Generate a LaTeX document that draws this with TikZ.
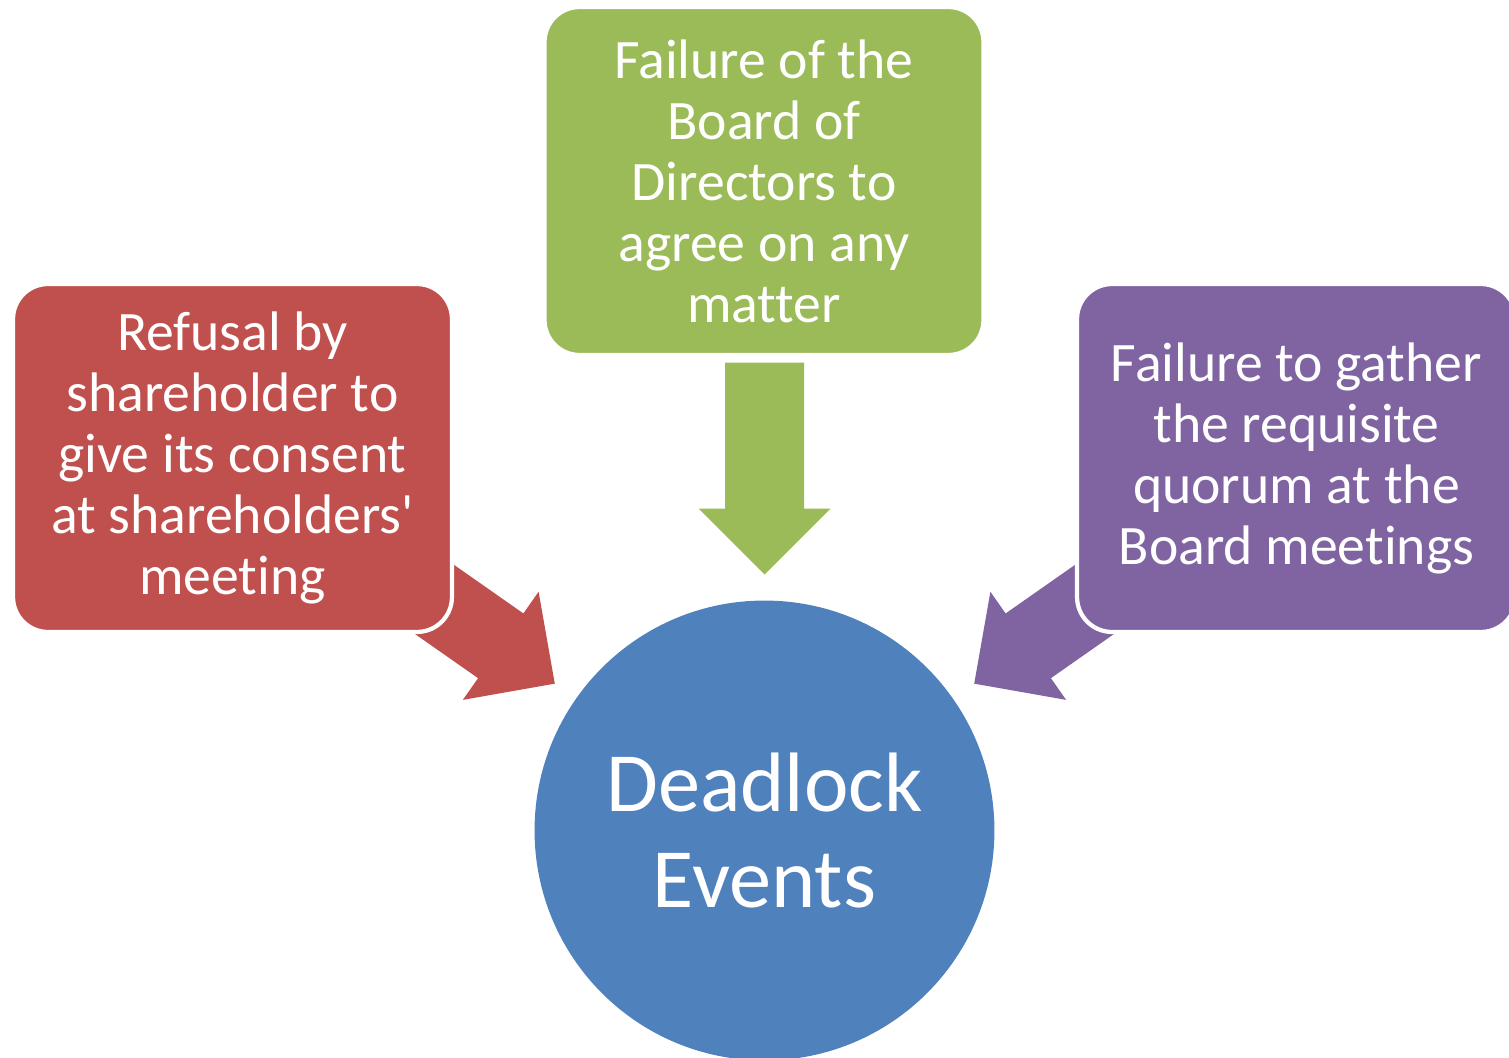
\documentclass[tikz,border=0pt]{standalone}
\usepackage{fontspec}
\setmainfont[Ligatures=NoCommon, RawFeature={-liga;-clig;-calt}]{Carlito}
\usepackage{tikz}
\usetikzlibrary{calc,positioning}

\definecolor{dlblue}{HTML}{4F81BD}
\definecolor{dlred}{HTML}{C0504D}
\definecolor{dlgreen}{HTML}{9BBB59}
\definecolor{dlpurple}{HTML}{8064A2}

% block arrow along +x, tip at 256 from the centre
\newcommand{\feedshape}{(468,-39.5) -- (322,-39.5) -- (322,-66) -- (256,0) -- (322,66) -- (322,39.5) -- (468,39.5) -- cycle}

\tikzset{
	causebox/.style={draw=white, line width=2.4pt, rounded corners=0.7cm, minimum width=8.78cm, minimum height=6.96cm, align=center, text=white, font=\fontsize{31.7}{34.7}\selectfont},
	hub/.style={circle, fill=dlblue, minimum size=9.2cm, align=center, text=white, font=\fontsize{48}{54.5}\selectfont}
}

\begin{document}
\begin{tikzpicture}[x=0.02cm, y=0.02cm]
		\useasboundingbox (0,0) rectangle (1509,-1058);
		\clip (0,0) rectangle (1509,-1058);
		\node[hub] (deadlock) at (764.5,-830.5) {Deadlock\\Events};
		
		\fill[dlgreen, shift={(deadlock.center)}, rotate=90] \feedshape;
		\fill[dlred, shift={(deadlock.center)}, rotate=145] \feedshape;
		\fill[dlpurple, shift={(deadlock.center)}, rotate=35] \feedshape;
		
		\node[causebox, fill=dlgreen] (board) at (764,-181) {Failure of the\\Board of\\Directors to\\agree on any\\matter};
		\node[causebox, fill=dlred] (refusal) at (232.5,-458) {Refusal by\\shareholder to\\give its consent\\at shareholders\textquotesingle\\meeting};
		\node[causebox, fill=dlpurple] (quorum) at (1296.5,-458) {Failure to gather\\the requisite\\quorum at the\\Board meetings};
	\end{tikzpicture}
\end{document}
